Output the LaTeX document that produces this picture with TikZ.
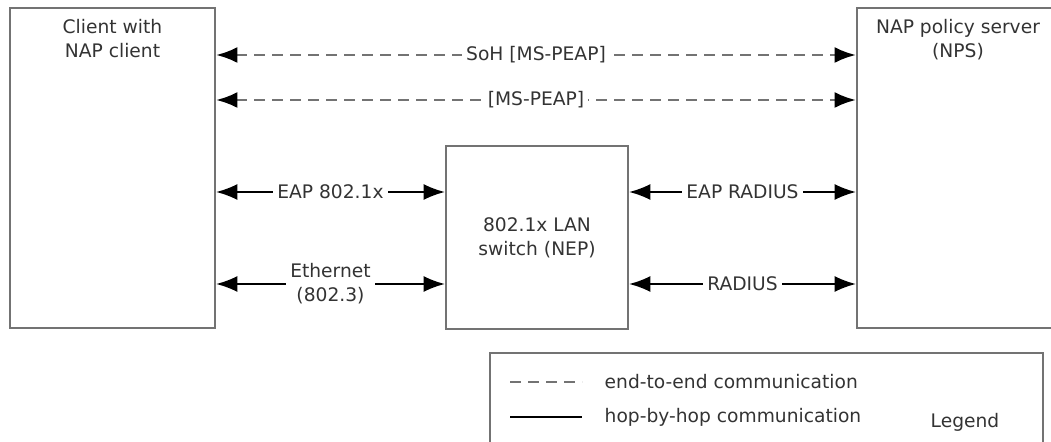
\documentclass[tikz,border=0pt]{standalone}
\usepackage{fontspec}
\setmainfont{DejaVu Sans}
\usetikzlibrary{arrows.meta}
\definecolor{boxgray}{HTML}{737373}
\definecolor{txtgray}{HTML}{333333}
\tikzset{
  box/.style={draw=boxgray, line width=1.6pt, rectangle, inner sep=0pt},
  hop/.style={draw=black, line width=1.4pt, {Latex[length=16pt,width=12pt]}-{Latex[length=16pt,width=12pt]}},
  e2e/.style={draw=boxgray, line width=2pt, dash pattern=on 8.25pt off 5.25pt,
    {Latex[black,length=16pt,width=12pt]}-{Latex[black,length=16pt,width=12pt]}},
  lbl/.style={fill=white, text=txtgray, inner sep=3pt, align=center},
  every node/.style={font=\fontsize{14}{18}\selectfont, text=txtgray}
}
\begin{document}
\begin{tikzpicture}[x=0.75pt, y=-0.75pt]
        \useasboundingbox (0,0) rectangle (1051,442);

        % Client
        \node[box, minimum width=153.75pt, minimum height=240pt] (client) at (112.5,168) {};
        \node[anchor=north, align=center] (clienttxt) at (112.5,15) {Client with\\NAP client};

        % NAP server
        \node[box, minimum width=153.75pt, minimum height=240pt] (server) at (959.5,168) {};
        \node[anchor=north, align=center] (servertxt) at (958,15) {NAP policy server\\(NPS)};

        % Switch
        \node[box, minimum width=136.5pt, minimum height=137.25pt, align=center] (switch) at (537,237.5) {802.1x LAN\\switch (NEP)};

        % Rows
        \coordinate (row1) at (0,55);
        \coordinate (row2) at (0,100);
        \coordinate (row3) at (0,192);
        \coordinate (row4) at (0,284);

        % End-to-end
        \draw[e2e] (client.east |- row1) -- node[lbl] {SoH [MS-PEAP]} (server.west |- row1);
        \draw[e2e] (client.east |- row2) -- node[lbl] {[MS-PEAP]} (server.west |- row2);

        % Hop-by-hop
        \draw[hop] (client.east |- row3) -- node[lbl] {EAP 802.1x} (switch.west |- row3);
        \draw[hop] (client.east |- row4) -- node[lbl] {Ethernet\\(802.3)} (switch.west |- row4);
        \draw[hop] (switch.east |- row3) -- node[lbl] {EAP RADIUS} (server.west |- row3);
        \draw[hop] (switch.east |- row4) -- node[lbl] {RADIUS} (server.west |- row4);

        % Legend
        \node[box, minimum width=414.75pt, minimum height=72.75pt] (legend) at (766.5,401.5) {};
        \coordinate (d1) at (510,382);
        \coordinate (d2) at (582,382);
        \coordinate (s1) at (510,417);
        \coordinate (s2) at (582,417);
        \draw[draw=boxgray, line width=2pt, dash pattern=on 8.25pt off 5.25pt] (d1) -- (d2);
        \draw[draw=black, line width=1.4pt] (s1) -- (s2);
        \node[anchor=west] (e2etxt) at (600,382) {end-to-end communication};
        \node[anchor=west] (hoptxt) at (600,417) {hop-by-hop communication};
        \node[anchor=base east] (legendtxt) at (1004,427) {Legend};
    \end{tikzpicture}
\end{document}
